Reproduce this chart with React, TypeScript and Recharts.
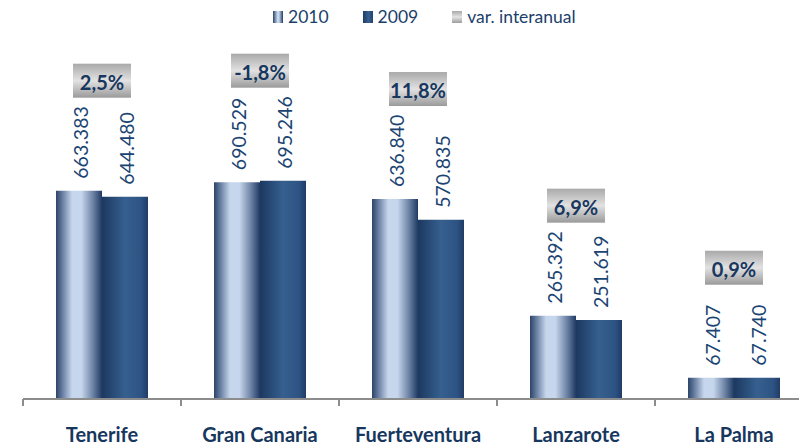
import React from 'react';
import { ComposedChart, Bar, Line, XAxis, YAxis, LabelList } from 'recharts';

const categories = ['Tenerife', 'Gran Canaria', 'Fuerteventura', 'Lanzarote', 'La Palma'];
const values2010 = [663383, 690529, 636840, 265392, 67407];
const values2009 = [644480, 695246, 570835, 251619, 67740];
const varInteranual = [2.5, -1.8, 11.8, 6.9, 0.9];

const data = categories.map((name, i) => ({
  name,
  v2010: values2010[i],
  v2009: values2009[i],
  top: Math.max(values2010[i], values2009[i]),
  pct: varInteranual[i],
}));

const FONT = 'Lato, "Open Sans", sans-serif';
const NAVY = '#17375e';
const BAND = 158;

const fmtThousands = (v: number) => String(v).replace(/\B(?=(\d{3})+(?!\d))/g, '.');
const fmtPct = (v: number) => v.toFixed(1).replace('.', ',') + '%';

const ValueLabel = (props: any) => {
  const { x, y, width, value } = props;
  const cx = x + width / 2 + 2;
  const ty = y - 12;
  return (
    <text
      x={cx}
      y={ty}
      transform={`rotate(-90, ${cx}, ${ty})`}
      textAnchor="start"
      dominantBaseline="central"
      fill="#1a4472"
      fontSize={19.5}
      fontFamily={FONT}
    >
      {fmtThousands(value)}
    </text>
  );
};

const PctLabel = (props: any) => {
  const { x, y, value } = props;
  const w = 58;
  const h = 34;
  const bottom = y - 93;
  return (
    <g>
      <rect x={x - w / 2} y={bottom - h} width={w} height={h} fill="url(#gPct)" />
      <text
        x={x}
        y={bottom - h / 2 + 1}
        textAnchor="middle"
        dominantBaseline="central"
        fill={NAVY}
        fontSize={20}
        fontWeight="bold"
        fontFamily={FONT}
      >
        {fmtPct(value)}
      </text>
    </g>
  );
};

const CategoryTick = (props: any) => {
  const { x, y, payload } = props;
  return (
    <g>
      <line x1={x - BAND / 2} x2={x - BAND / 2} y1={y} y2={y + 7} stroke="#8c8c8c" strokeWidth={2} />
      <text x={x} y={y + 43} textAnchor="middle" fill={NAVY} fontSize={20} fontWeight="bold" fontFamily={FONT}>
        {payload.value}
      </text>
    </g>
  );
};

const legendItems = [
  { label: '2010', bg: 'linear-gradient(to right, #2c4468, #c6d6ec 45%, #c6d6ec 60%, #1f3a63)' },
  { label: '2009', bg: 'linear-gradient(to right, #1f3c66, #36608f 55%, #24446f)' },
  { label: 'var. interanual', bg: 'linear-gradient(to bottom, #a8a8a8, #e4e4e4 50%, #9c9c9c)' },
];

export default function App() {
  return (
    <div style={{ position: 'fixed', left: 0, top: 0, width: 799, height: 445, overflow: 'hidden', background: '#fff' }}>
      <div
        style={{
          position: 'absolute',
          left: 273,
          top: 7,
          display: 'flex',
          alignItems: 'center',
          fontFamily: FONT,
          fontSize: 17.5,
          color: '#1a3f6b',
          lineHeight: '20px',
        }}
      >
        {legendItems.map((it, i) => (
          <div key={it.label} style={{ display: 'flex', alignItems: 'center', marginRight: i < 2 ? 34 : 0 }}>
            <div style={{ width: 10, height: 12, background: it.bg, marginRight: 5 }} />
            <span>{it.label}</span>
          </div>
        ))}
      </div>
      <ComposedChart
        width={830}
        height={445}
        data={data}
        margin={{ top: 85, right: 17, bottom: 0, left: 23 }}
        barGap={0}
      >
        <defs>
          <linearGradient id="g2010" x1="0" y1="0" x2="1" y2="0">
            <stop offset="0%" stopColor="#2c4468" />
            <stop offset="12%" stopColor="#5f769a" />
            <stop offset="35%" stopColor="#c6d6ec" />
            <stop offset="55%" stopColor="#c6d6ec" />
            <stop offset="80%" stopColor="#6e84a6" />
            <stop offset="100%" stopColor="#1f3a63" />
          </linearGradient>
          <linearGradient id="g2009" x1="0" y1="0" x2="1" y2="0">
            <stop offset="0%" stopColor="#1c3860" />
            <stop offset="50%" stopColor="#36608f" />
            <stop offset="85%" stopColor="#2d5383" />
            <stop offset="100%" stopColor="#1f3c66" />
          </linearGradient>
          <linearGradient id="gPct" x1="0" y1="0" x2="0" y2="1">
            <stop offset="0%" stopColor="#a9a9a9" />
            <stop offset="50%" stopColor="#e2e2e2" />
            <stop offset="100%" stopColor="#9a9a9a" />
          </linearGradient>
        </defs>
        <XAxis
          dataKey="name"
          height={46}
          axisLine={{ stroke: '#8c8c8c', strokeWidth: 2 }}
          tickLine={false}
          tickSize={0}
          tickMargin={0}
          interval={0}
          tick={<CategoryTick />}
        />
        <YAxis hide domain={[0, 1000000]} />
        <Bar dataKey="v2010" name="2010" barSize={46} fill="url(#g2010)" isAnimationActive={false}>
          <LabelList dataKey="v2010" content={<ValueLabel />} />
        </Bar>
        <Bar dataKey="v2009" name="2009" barSize={46} fill="url(#g2009)" isAnimationActive={false}>
          <LabelList dataKey="v2009" content={<ValueLabel />} />
        </Bar>
        <Line
          dataKey="top"
          stroke="none"
          dot={false}
          activeDot={false}
          legendType="none"
          isAnimationActive={false}
        >
          <LabelList dataKey="pct" content={<PctLabel />} />
        </Line>
      </ComposedChart>
    </div>
  );
}
